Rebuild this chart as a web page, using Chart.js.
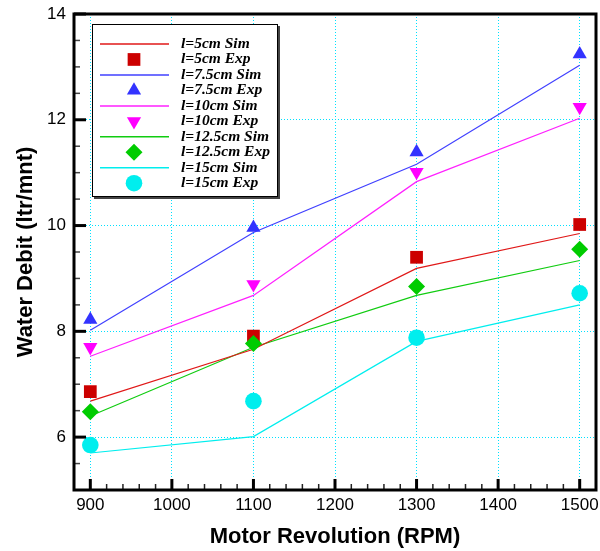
<!DOCTYPE html>
<html>
<head>
<meta charset="utf-8">
<script src="https://cdn.jsdelivr.net/npm/chart.js@4/dist/chart.umd.min.js"></script>
<style>
  body { margin: 0; background: #fff; }
  #wrap { width: 600px; height: 551px; }
</style>
</head>
<body>
<div id="wrap"><canvas id="chart" width="600" height="551"></canvas></div>
<script>
// data
const rpm = [900, 1100, 1300, 1500];
const sim5 = [6.68, 7.66, 9.19, 9.85];
const exp5 = [6.86, 7.91, 9.40, 10.02];
const sim75 = [8.02, 9.87, 11.16, 13.03];
const exp75 = [8.22, 9.96, 11.39, 13.24];
const sim10 = [7.53, 8.68, 10.83, 12.03];
const exp10 = [7.70, 8.89, 11.01, 12.24];
const sim125 = [6.40, 7.70, 8.68, 9.34];
const exp125 = [6.48, 7.77, 8.85, 9.55];
const sim15 = [5.70, 6.01, 7.81, 8.50];
const exp15 = [5.85, 6.68, 7.88, 8.72];
const xTickLabels = [900, 1000, 1100, 1200, 1300, 1400, 1500];
const yTickLabels = [6, 8, 10, 12, 14];

const gridCyan = 'rgb(0,225,255)';

function pts(ys) {
  return ys.map((y, i) => ({ x: rpm[i], y: y }));
}

function simSet(label, ys, color) {
  return {
    label: label, data: pts(ys), borderColor: color, backgroundColor: color,
    borderWidth: 1.2, pointRadius: 0, showLine: true, tension: 0, order: 20, kind: 'sim'
  };
}

function expSet(label, ys, color, style, radius, rotation, order) {
  return {
    label: label, data: pts(ys), borderColor: color, backgroundColor: color,
    borderWidth: 0, showLine: false, pointStyle: style, pointRadius: radius,
    pointHoverRadius: radius, pointRotation: rotation || 0, order: order, kind: 'exp'
  };
}

const datasets = [
  simSet('l=5cm Sim', sim5, '#e01818'),
  expSet('l=5cm Exp', exp5, '#cc0000', 'rect', 9, 0, 5),
  simSet('l=7.5cm Sim', sim75, '#4040ff'),
  expSet('l=7.5cm Exp', exp75, '#3333ff', 'triangle', 8.2, 0, 4),
  simSet('l=10cm Sim', sim10, '#ff20ff'),
  expSet('l=10cm Exp', exp10, '#ff00ff', 'triangle', 8.2, 180, 3),
  simSet('l=12.5cm Sim', sim125, '#10cc10'),
  expSet('l=12.5cm Exp', exp125, '#00cc00', 'rectRot', 8.5, 0, 2),
  simSet('l=15cm Sim', sim15, '#00eeee'),
  expSet('l=15cm Exp', exp15, '#00eeee', 'circle', 8.3, 0, 1)
];

// white page behind everything
const whiteBg = {
  id: 'whiteBg',
  beforeDraw(chart) {
    const ctx = chart.ctx;
    ctx.save();
    ctx.fillStyle = '#fff';
    ctx.fillRect(0, 0, chart.width, chart.height);
    ctx.restore();
  }
};

// frame + inward tick marks
const frameTicks = {
  id: 'frameTicks',
  afterDatasetsDraw(chart) {
    const ctx = chart.ctx;
    const a = chart.chartArea;
    const xs = chart.scales.x, ys = chart.scales.y;
    ctx.save();
    xs.ticks.forEach(t => {
      const px = xs.getPixelForValue(t.value);
      const major = xTickLabels.includes(t.value);
      if (px <= a.left + 1 || px >= a.right - 1) return;
      ctx.beginPath();
      ctx.strokeStyle = major ? '#000' : '#222';
      ctx.lineWidth = major ? 3 : 1.5;
      ctx.moveTo(px, a.bottom);
      ctx.lineTo(px, a.bottom - (major ? 11 : 6));
      ctx.stroke();
    });
    ys.ticks.forEach(t => {
      const py = ys.getPixelForValue(t.value);
      const major = yTickLabels.includes(t.value);
      if (py >= a.bottom - 1) return;
      ctx.beginPath();
      ctx.strokeStyle = major ? '#000' : '#444';
      ctx.lineWidth = major ? 3 : 1.5;
      ctx.moveTo(a.left, py);
      ctx.lineTo(a.left + (major ? 12 : 6), py);
      ctx.stroke();
    });
    ctx.strokeStyle = '#000';
    ctx.lineWidth = 3;
    ctx.strokeRect(a.left, a.top, a.right - a.left, a.bottom - a.top);
    ctx.restore();
  }
};

// boxed legend inside the plot, top left
const boxLegend = {
  id: 'boxLegend',
  afterDraw(chart) {
    const ctx = chart.ctx;
    const bx = 92, by = 24, bw = 186, bh = 173;
    ctx.save();
    ctx.fillStyle = '#444';
    ctx.fillRect(bx + 2, by + 2, bw, bh);
    ctx.fillStyle = '#fff';
    ctx.fillRect(bx, by, bw, bh);
    ctx.strokeStyle = '#000';
    ctx.lineWidth = 1;
    ctx.strokeRect(bx + 0.5, by + 0.5, bw - 1, bh - 1);
    ctx.font = 'italic bold 15.5px "Liberation Serif", "DejaVu Serif", serif';
    ctx.textBaseline = 'middle';
    chart.data.datasets.forEach((ds, i) => {
      const y = 44 + i * 15.47;
      if (ds.kind === 'sim') {
        ctx.beginPath();
        ctx.strokeStyle = ds.borderColor;
        ctx.lineWidth = 1.5;
        ctx.moveTo(100, y);
        ctx.lineTo(169, y);
        ctx.stroke();
      } else {
        ctx.fillStyle = ds.backgroundColor;
        Chart.helpers.drawPoint(ctx, {
          pointStyle: ds.pointStyle, radius: ds.pointRadius,
          rotation: ds.pointRotation, borderWidth: 0
        }, 134, y);
      }
      ctx.fillStyle = '#000';
      ctx.fillText(ds.label, 181, y);
    });
    ctx.restore();
  }
};

const tickFont = { family: '"Liberation Sans", Arial, sans-serif', size: 17 };
const titleFont = { family: '"Liberation Sans", Arial, sans-serif', size: 22, weight: 'bold' };

new Chart(document.getElementById('chart'), {
  type: 'line',
  data: { datasets: datasets },
  options: {
    responsive: false,
    animation: false,
    events: [],
    // no auto padding for big markers, so the plot keeps its frame
    layout: { autoPadding: false, padding: { top: 14, right: 4, left: 0, bottom: 0 } },
    plugins: { legend: { display: false }, tooltip: { enabled: false } },
    scales: {
      x: {
        type: 'linear', min: 880, max: 1520,
        afterFit: s => { s.height = 61; s.paddingLeft = 0; s.paddingRight = 0; },
        ticks: {
          stepSize: 20, autoSkip: false, maxRotation: 0, padding: 5,
          color: '#000', font: tickFont,
          callback: v => xTickLabels.includes(v) ? String(v) : ''
        },
        grid: {
          drawTicks: false, lineWidth: 1,
          color: c => (c.tick && xTickLabels.includes(c.tick.value)) ? gridCyan : 'rgba(0,0,0,0)'
        },
        border: { display: false, dash: [1, 2] },
        title: {
          display: true, text: 'Motor Revolution (RPM)', color: '#000',
          font: titleFont, padding: { top: 0, bottom: 1 }
        }
      },
      y: {
        type: 'linear', min: 5, max: 14,
        afterFit: s => { s.width = 74; s.paddingTop = 0; s.paddingBottom = 0; },
        ticks: {
          stepSize: 0.5, autoSkip: false, padding: 8,
          color: '#000', font: tickFont,
          callback: v => yTickLabels.includes(v) ? String(v) : ''
        },
        grid: {
          drawTicks: false, lineWidth: 1,
          color: c => (c.tick && [6, 8, 10, 12].includes(c.tick.value)) ? gridCyan : 'rgba(0,0,0,0)'
        },
        border: { display: false, dash: [1, 2] },
        title: {
          display: true, text: 'Water Debit (ltr/mnt)', color: '#000',
          font: titleFont, padding: { top: 13, bottom: 0 }
        }
      }
    }
  },
  plugins: [whiteBg, frameTicks, boxLegend]
});
</script>
</body>
</html>
